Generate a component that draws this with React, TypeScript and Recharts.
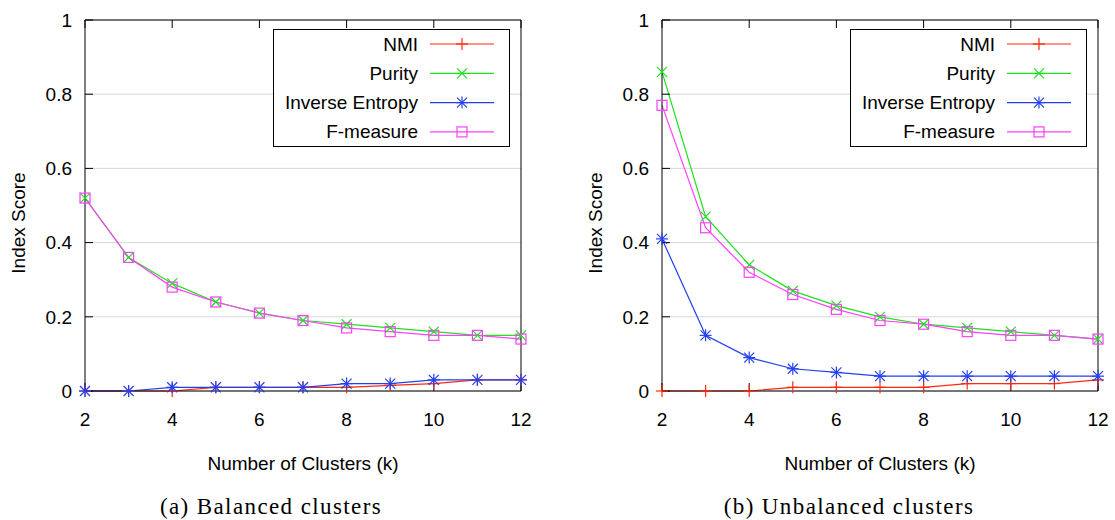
import { LineChart, Line, XAxis, YAxis, CartesianGrid, Legend, Label } from 'recharts';

const clusters = [2, 3, 4, 5, 6, 7, 8, 9, 10, 11, 12];
const xTicks = [2, 4, 6, 8, 10, 12];
const yTicks = [0, 0.2, 0.4, 0.6, 0.8, 1];

// (a) balanced clusters
const balancedNmi = [0, 0, 0, 0.01, 0.01, 0.01, 0.01, 0.015, 0.02, 0.03, 0.03];
const balancedPurity = [0.52, 0.36, 0.29, 0.24, 0.21, 0.19, 0.18, 0.17, 0.16, 0.15, 0.15];
const balancedInvEntropy = [0, 0, 0.01, 0.01, 0.01, 0.01, 0.02, 0.02, 0.03, 0.03, 0.03];
const balancedFMeasure = [0.52, 0.36, 0.28, 0.24, 0.21, 0.19, 0.17, 0.16, 0.15, 0.15, 0.14];

// (b) unbalanced clusters
const unbalancedNmi = [0, 0, 0, 0.01, 0.01, 0.01, 0.01, 0.02, 0.02, 0.02, 0.03];
const unbalancedPurity = [0.86, 0.47, 0.34, 0.27, 0.23, 0.2, 0.18, 0.17, 0.16, 0.15, 0.14];
const unbalancedInvEntropy = [0.41, 0.15, 0.09, 0.06, 0.05, 0.04, 0.04, 0.04, 0.04, 0.04, 0.04];
const unbalancedFMeasure = [0.77, 0.44, 0.32, 0.26, 0.22, 0.19, 0.18, 0.16, 0.15, 0.15, 0.14];

const FONT = '"Liberation Sans", Arial, Helvetica, sans-serif';

type Shape = 'plus' | 'cross' | 'star' | 'square';

const series: { key: string; name: string; color: string; shape: Shape }[] = [
  { key: 'nmi', name: 'NMI', color: '#ff2a10', shape: 'plus' },
  { key: 'purity', name: 'Purity', color: '#1ee01e', shape: 'cross' },
  { key: 'ie', name: 'Inverse Entropy', color: '#2240f0', shape: 'star' },
  { key: 'f', name: 'F-measure', color: '#ff40ff', shape: 'square' },
];

function Marker({ x, y, color, shape }: { x: number; y: number; color: string; shape: Shape }) {
  const s = 5;
  if (shape === 'plus') {
    return (
      <g stroke={color} strokeWidth={1.2}>
        <line x1={x - s - 1} y1={y} x2={x + s + 1} y2={y} />
        <line x1={x} y1={y - s - 1} x2={x} y2={y + s + 1} />
      </g>
    );
  }
  if (shape === 'cross') {
    return (
      <g stroke={color} strokeWidth={1.2}>
        <line x1={x - s} y1={y - s} x2={x + s} y2={y + s} />
        <line x1={x - s} y1={y + s} x2={x + s} y2={y - s} />
      </g>
    );
  }
  if (shape === 'star') {
    return (
      <g stroke={color} strokeWidth={1.2}>
        <line x1={x - s} y1={y - s} x2={x + s} y2={y + s} />
        <line x1={x - s} y1={y + s} x2={x + s} y2={y - s} />
        <line x1={x - s - 1} y1={y} x2={x + s + 1} y2={y} />
        <line x1={x} y1={y - s - 1} x2={x} y2={y + s + 1} />
      </g>
    );
  }
  return <rect x={x - s} y={y - s} width={2 * s} height={2 * s} fill="none" stroke={color} strokeWidth={1.2} />;
}

function LegendBox() {
  return (
    <svg width={237} height={118} style={{ display: 'block' }}>
      <rect x={0.5} y={0.5} width={236} height={117} fill="#fff" stroke="#000" strokeWidth={1} />
      {series.map((s, i) => {
        const y = 15 + i * 29.3;
        return (
          <g key={s.key}>
            <text x={145} y={y} textAnchor="end" dominantBaseline="central" fontFamily={FONT} fontSize={19} fill="#000">
              {s.name}
            </text>
            <line x1={157} y1={y} x2={221} y2={y} stroke={s.color} strokeWidth={1.2} />
            <Marker x={189} y={y} color={s.color} shape={s.shape} />
          </g>
        );
      })}
    </svg>
  );
}

interface PanelProps {
  nmi: number[];
  purity: number[];
  ie: number[];
  f: number[];
  left: number;
}

function Panel({ nmi, purity, ie, f, left }: PanelProps) {
  const data = clusters.map((k, i) => ({ k, nmi: nmi[i], purity: purity[i], ie: ie[i], f: f[i] }));
  const tickStyle = { fill: '#000', fontSize: 19, fontFamily: FONT };

  return (
    <div style={{ position: 'absolute', left, top: 0 }}>
      <LineChart width={538} height={480} data={data} margin={{ top: 19, right: 16, bottom: 0, left: 0 }}>
        <CartesianGrid vertical={false} stroke="#d8d8d8" strokeWidth={1} />
        <XAxis
          dataKey="k"
          type="number"
          domain={[2, 12]}
          ticks={xTicks}
          height={89}
          stroke="#000"
          tickSize={-8}
          tickMargin={30}
          tick={tickStyle}
        >
          <Label
            content={({ viewBox }: any) => (
              <text
                x={viewBox.x + viewBox.width / 2}
                y={463}
                textAnchor="middle"
                dominantBaseline="central"
                fontFamily={FONT}
                fontSize={19}
                fill="#000"
              >
                Number of Clusters (k)
              </text>
            )}
          />
        </XAxis>
        <XAxis
          xAxisId="top"
          orientation="top"
          dataKey="k"
          type="number"
          domain={[2, 12]}
          ticks={xTicks}
          height={1}
          stroke="#000"
          tickSize={-8}
          tickFormatter={() => ''}
        />
        <YAxis
          domain={[0, 1]}
          ticks={yTicks}
          width={85}
          stroke="#000"
          tickSize={-8}
          tickMargin={21}
          tick={tickStyle}
        >
          <Label
            content={() => (
              <text
                x={18}
                y={223}
                transform="rotate(-90 18 223)"
                textAnchor="middle"
                dominantBaseline="central"
                fontFamily={FONT}
                fontSize={19}
                fill="#000"
              >
                Index Score
              </text>
            )}
          />
        </YAxis>
        <YAxis
          yAxisId="right"
          orientation="right"
          domain={[0, 1]}
          ticks={yTicks}
          width={1}
          stroke="#000"
          tickSize={-8}
          tickFormatter={() => ''}
        />
        <Legend
          layout="horizontal"
          verticalAlign="middle"
          align="center"
          content={() => <LegendBox />}
          wrapperStyle={{ top: 29, left: 273, width: 237, height: 118 }}
        />
        {series.map((s) => (
          <Line
            key={s.key}
            dataKey={s.key}
            name={s.name}
            stroke={s.color}
            strokeWidth={1.2}
            isAnimationActive={false}
            dot={(p: any) => <Marker key={`${s.key}-${p.index}`} x={p.cx} y={p.cy} color={s.color} shape={s.shape} />}
            activeDot={false}
          />
        ))}
      </LineChart>
    </div>
  );
}

const captionStyle = {
  position: 'absolute' as const,
  top: 494,
  fontFamily: '"Liberation Serif", "Times New Roman", serif',
  fontSize: 23,
  lineHeight: '26px',
  letterSpacing: 1.4,
  color: '#000',
  whiteSpace: 'nowrap' as const,
  textAlign: 'center' as const,
  width: 400,
};

export default function App() {
  return (
    <div style={{ position: 'absolute', left: 0, top: 0, width: 1115, height: 520, background: '#fff', overflow: 'hidden' }}>
      <Panel nmi={balancedNmi} purity={balancedPurity} ie={balancedInvEntropy} f={balancedFMeasure} left={0} />
      <Panel nmi={unbalancedNmi} purity={unbalancedPurity} ie={unbalancedInvEntropy} f={unbalancedFMeasure} left={577} />
      <div style={{ ...captionStyle, left: 71 }}>(a) Balanced clusters</div>
      <div style={{ ...captionStyle, left: 649 }}>(b) Unbalanced clusters</div>
    </div>
  );
}
